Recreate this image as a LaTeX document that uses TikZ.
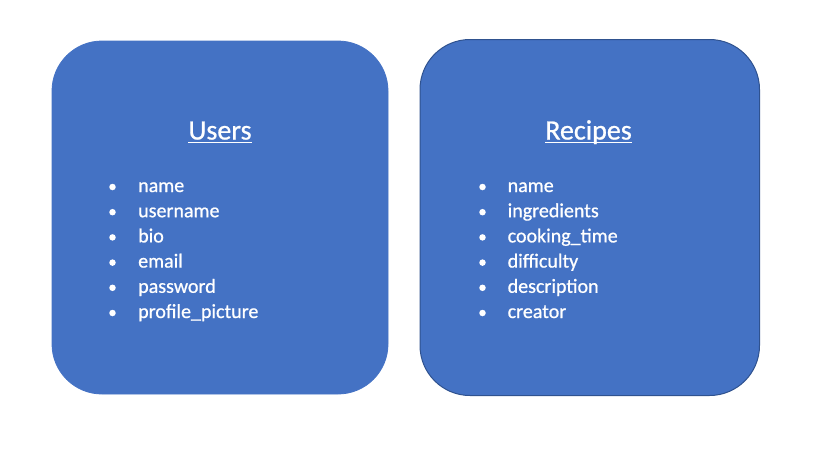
\documentclass[tikz,border=0pt]{standalone}
\usepackage{fontspec}
\setmainfont{Carlito}[FakeBold=0.8]
\definecolor{cardfill}{HTML}{4472C4}
\definecolor{cardedge}{HTML}{2F528F}
\begin{document}
\begin{tikzpicture}[x=1pt,y=-1pt,
  card/.style={fill=cardfill,rounded corners=50pt},
  cardtitle/.style={text=white,anchor=base,inner sep=0pt,font=\fontsize{28}{34}\selectfont},
  item/.style={text=white,anchor=base west,inner sep=0pt,font=\fontsize{20}{24}\selectfont},
  dot/.style={circle,fill=white,inner sep=0pt,minimum size=6.5pt}]
\useasboundingbox (0,0) rectangle (831,451);

% left card: Users
\filldraw[card,draw=cardfill,line width=0.8pt] (52,41) rectangle (388,394);
\node[cardtitle] (users) at (220,139.5) {Users};
\draw[white,line width=1.6pt] ([yshift=-3pt]users.base west) -- ([yshift=-3pt]users.base east);
\foreach \t [count=\i] in {name,username,bio,email,password,profile\_picture}{
  \node[item] (u\i) at (138,{192+25.2*(\i-1)}) {\t};
  \node[dot] (ub\i) at (112.5,{187+25.2*(\i-1)}) {};
}

% right card: Recipes
\filldraw[card,draw=cardedge,line width=1pt] (420,39.5) rectangle (759.5,395.5);
\node[cardtitle] (recipes) at (588.5,139.5) {Recipes};
\draw[white,line width=1.6pt] ([yshift=-3pt]recipes.base west) -- ([yshift=-3pt]recipes.base east);
\foreach \t [count=\i] in {name,ingredients,cooking\_time,difficulty,description,creator}{
  \node[item] (r\i) at (507.5,{192+25.2*(\i-1)}) {\t};
  \node[dot] (rb\i) at (482.5,{187+25.2*(\i-1)}) {};
}
\end{tikzpicture}
\end{document}
